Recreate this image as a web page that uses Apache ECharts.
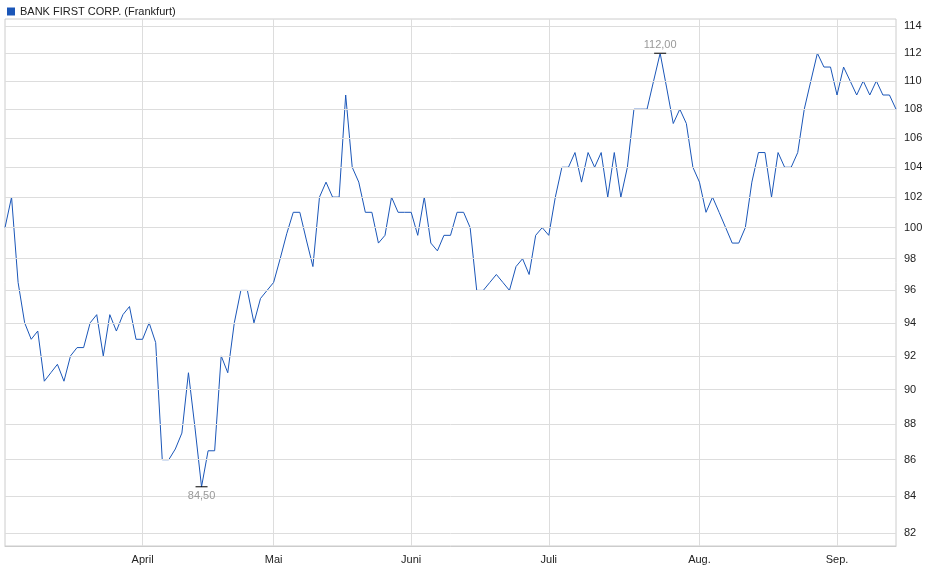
<!DOCTYPE html>
<html><head><meta charset="utf-8">
<script src="https://cdn.jsdelivr.net/npm/echarts@6/dist/echarts.min.js"></script>
<style>html,body{margin:0;padding:0;background:#fff}#c{width:940px;height:579px}</style>
</head><body><div id="c"></div>
<script>
const prices = [100,102,96.5,94,93,93.5,90.5,91,91.5,90.5,92,92.5,92.5,94,94.5,92,94.5,93.5,94.5,95,93,93,94,92.8,86,86,86.6,87.5,91,87.8,84.5,86.5,86.5,92,91,94,96,96,94,95.5,96,96.5,98,99.6,
101,101,99.2,97.5,102,103,102,102,109,104,103,101,101,99,99.5,102,101,101,101,99.5,102,99,98.5,99.5,99.5,101,101,100,96,96,96.5,97,96.5,96,97.5,98,97,99.5,100,99.5,102,104,104,105,103,105,104,105,
102,105,102,104,108,108,108,110,112,109.5,107,108,107,104,103,101,102,101,100,99,99,100,103,105,105,102,105,104,104,105,108,110,112,111,111,109,111,110,109,110,109,110,109,109,108];
const monthNames = ['April','Mai','Juni','Juli','Aug.','Sep.'];
const monthIdx = [21,41,62,83,106,127];
const yTicks = [82,84,86,88,90,92,94,96,98,100,102,104,106,108,110,112,114];
const L = Math.log10;
const cats = prices.map((_, i) => String(i));
const isMonth = i => monthIdx.indexOf(i) >= 0;
const chart = echarts.init(document.getElementById('c'));
chart.setOption({
  animation:false,
  textStyle:{fontFamily:'Arial, Liberation Sans, sans-serif'},
  legend:{left:2,top:1,itemWidth:8,itemHeight:8,icon:'rect',itemGap:4,
    textStyle:{fontSize:11,color:'#222'},data:['BANK FIRST CORP. (Frankfurt)']},
  grid:{left:5,right:44,top:19,bottom:33,show:true,borderColor:'#ccc',borderWidth:1},
  xAxis:{type:'category',data:cats,boundaryGap:false,
    axisLine:{lineStyle:{color:'#ccc'}},axisTick:{show:false},
    axisLabel:{interval:(i)=>isMonth(i),formatter:(v)=>monthNames[monthIdx.indexOf(+v)],fontSize:11,color:'#222'},
    splitLine:{show:true,interval:(i)=>isMonth(i),lineStyle:{color:'#ddd'}}},
  yAxis:{type:'value',min:1.91014,max:2.05888,axisLabel:{show:false},splitLine:{show:false},axisLine:{show:false},axisTick:{show:false}},
  series:[{name:'BANK FIRST CORP. (Frankfurt)',type:'line',data:prices.map(L),symbol:'none',
    itemStyle:{color:'#1a56b8'},lineStyle:{color:'#1a56b8',width:1},
    markLine:{silent:true,symbol:'none',animation:false,precision:8,
      lineStyle:{color:'#ddd',type:'solid',width:1},
      label:{position:'end',formatter:(p)=>p.name,fontSize:11,color:'#222',distance:8},
      data:yTicks.map(v=>({name:String(v),yAxis:L(v)}))},
    markPoint:{symbol:'rect',symbolSize:[12,1],itemStyle:{color:'#000'},
      label:{formatter:(p)=>Math.pow(10,p.value).toFixed(2).replace('.',','),color:'#999',fontSize:11},
      data:[{type:'max',label:{position:'top',distance:2}},{type:'min',label:{position:'bottom',distance:3}}]}
  }]
});
</script></body></html>
